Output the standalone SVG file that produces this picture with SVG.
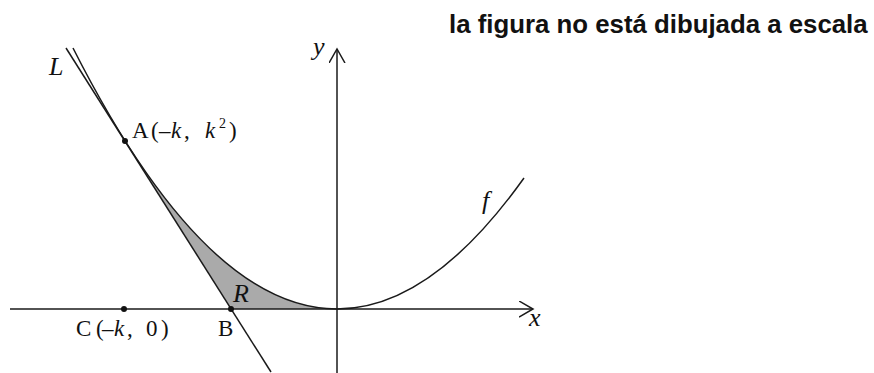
<svg xmlns="http://www.w3.org/2000/svg" width="874" height="373" viewBox="0 0 874 373">
<style>
.ax{stroke:#1a1a1a;stroke-width:1.5;fill:none}
.ln{stroke:#1a1a1a;stroke-width:1.5;fill:none}
.t{font-family:'Liberation Serif','Times New Roman',serif;font-size:23px;fill:#111}
.i{font-family:'Liberation Serif','Times New Roman',serif;font-style:italic;font-size:26px;fill:#111}
.title{font-family:'Liberation Sans',Arial,sans-serif;font-weight:bold;font-size:25.8px;fill:#111}
.dot{fill:#111}
</style>
<defs>
<marker id="arr" markerUnits="userSpaceOnUse" markerWidth="18" markerHeight="18" refX="14" refY="8" orient="auto">
<path d="M0,0 L14,8 L0,16" fill="none" stroke="#1a1a1a" stroke-width="1.5"/>
</marker>
</defs>
<text class="title" x="449" y="33">la figura no está dibujada a escala</text>
<g id="region-R">
<path d="M125,141 Q231,309 337,309 L231,309 Z" fill="#aaaaaa" stroke="none"/>
</g>
<g id="connectors">
<line id="x-axis" class="ax" x1="10" y1="309" x2="533" y2="309" marker-end="url(#arr)"/>
<line id="y-axis" class="ax" x1="337" y1="373" x2="337" y2="49" marker-end="url(#arr)"/>
<line id="tangent-L" class="ln" x1="66" y1="48" x2="271" y2="372"/>
<path id="curve-f" class="ln" d="M73,48 Q205,309 337,309 Q430.5,309 524,178"/>
</g>
<g id="point-A">
<circle class="dot" cx="125" cy="141" r="3"/>
<text class="t" y="138"><tspan x="132">A</tspan><tspan x="151">(</tspan><tspan x="159">–</tspan><tspan x="171" font-style="italic">k</tspan><tspan x="184">,</tspan><tspan x="205" font-style="italic">k</tspan><tspan x="219" y="128" font-size="14">2</tspan><tspan x="229" y="138">)</tspan></text>
</g>
<g id="point-C">
<circle class="dot" cx="124" cy="309" r="3"/>
<text class="t" y="336"><tspan x="76">C</tspan><tspan x="96">(</tspan><tspan x="102">–</tspan><tspan x="114" font-style="italic">k</tspan><tspan x="127">,</tspan><tspan x="146">0</tspan><tspan x="161">)</tspan></text>
</g>
<g id="point-B">
<circle class="dot" cx="231" cy="309" r="3"/>
<text class="t" x="218" y="336">B</text>
</g>
<g id="labels">
<text class="i" x="233" y="302">R</text>
<text class="i" x="49" y="75">L</text>
<text class="i" x="313" y="55">y</text>
<text class="i" x="482" y="209">f</text>
<text class="i" x="529" y="326">x</text>
</g>
</svg>
